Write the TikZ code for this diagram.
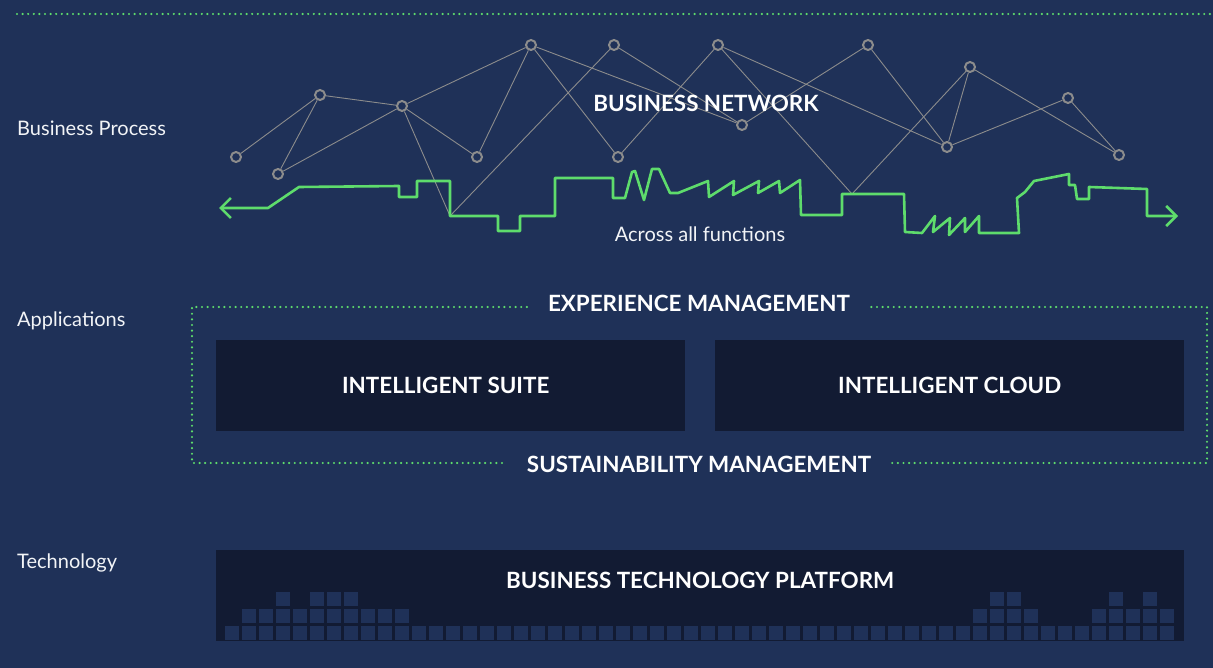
\documentclass[tikz,border=0pt]{standalone}
\usepackage{fontspec}
\setmainfont{Lato}
\usepackage{xcolor}
\usepackage{tikz}
\usetikzlibrary{arrows.meta,calc,positioning}
\definecolor{navy}{HTML}{1F3158}
\definecolor{deepnavy}{HTML}{121B33}
\definecolor{mint}{HTML}{5EDC6C}
\definecolor{netgray}{HTML}{8C8C8C}
\definecolor{paper}{HTML}{F2F4F7}
\tikzset{>=Straight Barb, node distance=-\pgflinewidth}

\begin{document}
\begin{tikzpicture}[x=1pt,y=-1pt]

	% Definitions.
	\tikzstyle{every node}=[
		inner sep=0pt,
		text=paper
	]
	\tikzset{
		netdot/.style={circle, draw=netgray, line width=2pt, fill=navy, minimum size=10pt},
		netline/.style={draw=netgray, line width=0.9pt},
		flowline/.style={draw=mint, line width=2.6pt, line join=round},
		dotline/.style={draw=mint, line width=2.4pt, line cap=round, dash pattern=on 0pt off 5.6pt},
		darkbox/.style={fill=deepnavy, anchor=north west, minimum height=91pt},
		sidelabel/.style={anchor=west, font=\fontsize{20}{23}\selectfont},
		heading/.style={text=white, font=\bfseries\fontsize{22.4}{26}\selectfont}
	}
	\def\myarrow{Straight Barb[width=20pt,length=10pt]}
	\def\CellSize{13.5}
	\def\CellPitch{17}

	% ---------- Background and Frame ---------

	\fill[navy] (0,0) rectangle (1213,668);
	\useasboundingbox (0,0) rectangle (1213,668);
	\draw[dotline] (17,14) -- (1213,14);

	% ---------- Row Labels ---------

	\node[sidelabel] (process) at (17,128) {Business Process};
	\node[sidelabel] (apps) at (17,321) {Applications};
	\node[sidelabel] (tech) at (17,563) {Technology};

	% ------------ Business Network -----------

	\node[netdot] (n1) at (236,157) {};
	\node[netdot] (n2) at (278,174) {};
	\node[netdot] (n3) at (320,95) {};
	\node[netdot] (n4) at (402,106) {};
	\node[netdot] (n5) at (477,157) {};
	\node[netdot] (n6) at (531,45) {};
	\node[netdot] (n7) at (614,45) {};
	\node[netdot] (n8) at (618,157) {};
	\node[netdot] (n9) at (718,45) {};
	\node[netdot] (n10) at (742,125) {};
	\node[netdot] (n11) at (868,45) {};
	\node[netdot] (n12) at (947,147) {};
	\node[netdot] (n13) at (970,67) {};
	\node[netdot] (n14) at (1068,98) {};
	\node[netdot] (n15) at (1119,155) {};

	% Corners of the flow line that the network reaches.
	\coordinate (drop1) at (450,216);
	\coordinate (drop2) at (852,194);

	\draw[netline] (n1) -- (n3);
	\draw[netline] (n2) -- (n3);
	\draw[netline] (n2) -- (n4);
	\draw[netline] (n3) -- (n4);
	\draw[netline] (n4) -- (n5);
	\draw[netline] (n4) -- (n6);
	\draw[netline] (n4) -- (drop1);
	\draw[netline] (n6) -- (n5);
	\draw[netline] (n6) -- (n8);
	\draw[netline] (n6) -- (n10);
	\draw[netline] (n7) -- (drop1);
	\draw[netline] (n7) -- (n10);
	\draw[netline] (n8) -- (n9);
	\draw[netline] (n9) -- (n12);
	\draw[netline] (n9) -- (drop2);
	\draw[netline] (n10) -- (n11);
	\draw[netline] (n11) -- (n12);
	\draw[netline] (n13) -- (n12);
	\draw[netline] (n13) -- (drop2);
	\draw[netline] (n13) -- (n15);
	\draw[netline] (n12) -- (n14);
	\draw[netline] (n14) -- (n15);

	\node[heading] (network) at (706,103) {BUSINESS NETWORK};

	% Flow across all functions.
	\draw[flowline, {\myarrow}-{\myarrow}]
		(219,208) -- (268,208) -- (299,187) -- (399,186) -- (399,197) -- (417,197) --
		(417,181) -- (450,181) -- (drop1) -- (498,216) -- (498,231) -- (520,231) --
		(520,216) -- (555,216) -- (555,178) -- (613,178) -- (613,198) -- (625,198) --
		(632,172) -- (635,171) -- (644,200) -- (652,169) -- (659,169) -- (670,193) --
		(678,193) -- (708,181) -- (709,197) -- (734,181) -- (733,195) -- (759,181) --
		(758,193) -- (779,181) -- (780,193) -- (800,180) -- (801,215) -- (842,215) --
		(842,194) -- (drop2) -- (904,194) -- (905,232) -- (922,233) -- (935,216) --
		(933,232) -- (950,218) -- (949,235) -- (965,218) -- (965,232) -- (979,216) --
		(979,233) -- (1019,233) -- (1017,198) -- (1025,192) -- (1034,181) -- (1069,174) --
		(1069,185) -- (1075,185) -- (1077,199) -- (1089,199) -- (1089,187) -- (1147,189) --
		(1147,216) -- (1178,216);

	\node[font=\fontsize{20}{23}\selectfont] (across) at (700,234) {Across all functions};

	% ------------ Applications -----------

	\node[darkbox, minimum width=469pt] (suite) at (216,340) {};
	\node[darkbox, minimum width=469pt] (cloud) at (715,340) {};
	\node[heading] (suiteLabel) at ([xshift=-5pt]suite.center) {INTELLIGENT SUITE};
	\node[heading] (cloudLabel) at (cloud.center) {INTELLIGENT CLOUD};

	\node[heading] (experience) at (699,303) {EXPERIENCE MANAGEMENT};
	\node[heading] (sustain) at (699,464) {SUSTAINABILITY MANAGEMENT};

	\coordinate (frameNW) at (192,307);
	\coordinate (frameSE) at (1207,463);
	\draw[dotline] ([xshift=-21pt]experience.west |- frameNW) -- (frameNW) --
		(frameNW |- frameSE) -- ([xshift=-21pt]sustain.west |- frameSE);
	\draw[dotline] ([xshift=21pt]sustain.east |- frameSE) -- (frameSE) --
		(frameSE |- frameNW) -- ([xshift=21pt]experience.east |- frameNW);

	% ------------ Technology -----------

	\node[darkbox, minimum width=968pt] (platform) at (216,550) {};
	\node[heading] (btp) at ([yshift=-30pt]platform.north) {BUSINESS TECHNOLOGY PLATFORM};

	% Cells along the bottom of the platform.
	\foreach \k in {0,...,55}
		\fill[navy] (225+\CellPitch*\k,626) rectangle ++(\CellSize,\CellSize);
	\foreach \k in {1,...,10,44,45,46,47,51,52,53,54,55}
		\fill[navy] (225+\CellPitch*\k,609) rectangle ++(\CellSize,\CellSize);
	\foreach \k in {3,5,6,7,45,46,52,54}
		\fill[navy] (225+\CellPitch*\k,592) rectangle ++(\CellSize,\CellSize);

\end{tikzpicture}
\end{document}
